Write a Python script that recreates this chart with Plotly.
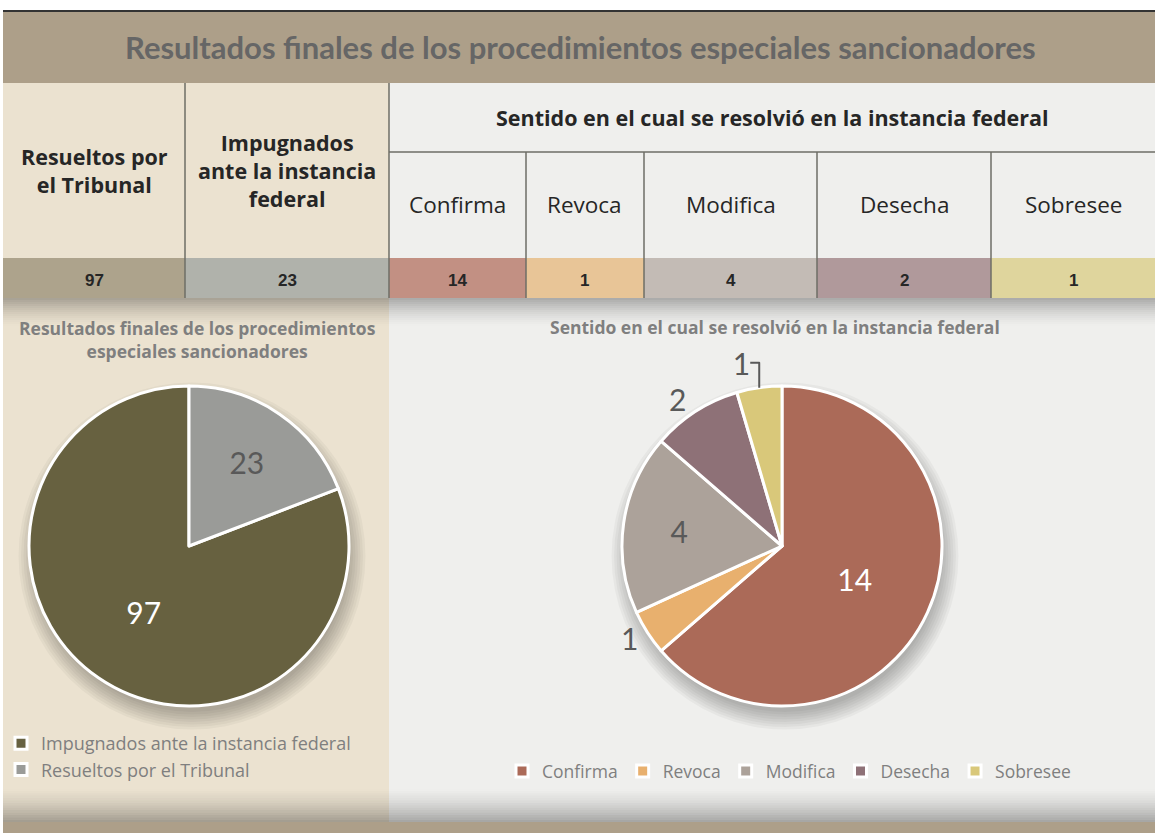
import plotly.graph_objects as go

W, H = 1155, 833

# ---------------- data ----------------
main_title = "Resultados finales de los procedimientos especiales sancionadores"
group_header = "Sentido en el cual se resolvió en la instancia federal"
table_labels = ["Resueltos por<br>el Tribunal", "Impugnados<br>ante la instancia<br>federal",
                "Confirma", "Revoca", "Modifica", "Desecha", "Sobresee"]
table_values = [97, 23, 14, 1, 4, 2, 1]

left_title = "Resultados finales de los procedimientos<br>especiales sancionadores"
left_labels = ["Impugnados ante la instancia federal", "Resueltos por el Tribunal"]
left_values = [97, 23]

right_title = "Sentido en el cual se resolvió en la instancia federal"
right_labels = ["Confirma", "Revoca", "Modifica", "Desecha", "Sobresee"]
right_values = [14, 1, 4, 2, 1]

# ---------------- styles ----------------
col_edges = [3, 185, 389, 526, 644, 817, 991, 1155]
value_colors = ["#ADA38C", "#B0B2AB", "#C29083", "#E8C597", "#C3BBB5", "#B0999B", "#DFD59D"]
left_colors = ["#676140", "#9A9B98"]
right_colors = ["#AB6A58", "#E8B06E", "#ACA29A", "#8E7177", "#D9C87A"]
BAND = "#AD9F89"
CREAM = "#EBE2D0"
LIGHT = "#EFEFED"
LINE = "#6E6E66"
FONT = "Open Sans"
TITLE_FONT = "Lato"


def px(x):
    return x / W


def py(y):
    return 1 - y / H


shapes = []
annotations = []


def rect(x0, y0, x1, y1, color, opacity=1.0, layer="below"):
    shapes.append(dict(type="rect", xref="paper", yref="paper", x0=px(x0), x1=px(x1),
                       y0=py(y1), y1=py(y0), fillcolor=color, opacity=opacity,
                       line=dict(width=0), layer=layer))


def line(x0, y0, x1, y1, color=LINE, width=1.5):
    shapes.append(dict(type="line", xref="paper", yref="paper", x0=px(x0), x1=px(x1),
                       y0=py(y0), y1=py(y1), line=dict(color=color, width=width), layer="below"))


def text(x, y, t, size, color, bold=False, family=FONT, xanchor="center"):
    annotations.append(dict(xref="paper", yref="paper", x=px(x), y=py(y), text=t,
                            showarrow=False, xanchor=xanchor, yanchor="middle",
                            font=dict(size=size, color=color, family=family,
                                      weight="bold" if bold else "normal")))


# title band
rect(3, 11, W, 83, BAND)
line(3, 11, W, 11, "#333333", 2)
text(580, 47, main_title, 31, "#666666", bold=True, family=TITLE_FONT)

# header cells
rect(3, 83, 389, 258, CREAM)
rect(389, 83, W, 258, LIGHT)
text((col_edges[0] + col_edges[1]) / 2, 170, table_labels[0], 21.5, "#262626", bold=True)
text((col_edges[1] + col_edges[2]) / 2, 170, table_labels[1], 21.5, "#262626", bold=True)
text((col_edges[2] + col_edges[-1]) / 2, 117, group_header, 21.5, "#262626", bold=True)
for i in range(2, 7):
    text((col_edges[i] + col_edges[i + 1]) / 2, 205, table_labels[i], 22.5, "#262626")

# value row
for i, v in enumerate(table_values):
    rect(col_edges[i], 258, col_edges[i + 1], 298, value_colors[i])
    text((col_edges[i] + col_edges[i + 1]) / 2, 280, str(v), 17, "#262626", bold=True,
         family="Liberation Sans")

# grid lines
line(389, 152, W, 152)
for x in col_edges[1:3]:
    line(x, 83, x, 298)
for x in col_edges[3:7]:
    line(x, 152, x, 298)

# lower panels
rect(3, 298, 389, 822, CREAM)
rect(389, 298, W, 822, LIGHT)
# top shadow gradient
n = 14
for k in range(n):
    y0 = 298 + k * 2
    rect(3, y0, W, y0 + 2, "#000000", opacity=0.28 * (1 - k / n) ** 1.5)
# bottom shadow gradient
for k in range(n):
    y1 = 822 - k * 2.4
    rect(3, y1 - 2.4, W, y1, "#000000", opacity=0.30 * (1 - k / n) ** 1.5)
rect(3, 822, W, H, BAND)


# pie shadows
def pie_shadow(cx, cy, r):
    for k in range(8):
        rr = r - 4 + k * 2.5
        shapes.append(dict(type="circle", xref="paper", yref="paper",
                           x0=px(cx - rr + 3), x1=px(cx + rr + 3),
                           y0=py(cy + rr + 10), y1=py(cy - rr + 10),
                           fillcolor="#000000", opacity=0.035, line=dict(width=0),
                           layer="below"))


pie_shadow(189, 546, 160)
pie_shadow(782, 546, 160)

# chart titles
text(197, 339, left_title, 17.5, "#7F7F7F", bold=True)
text(775, 327, right_title, 17.5, "#7F7F7F", bold=True)

fig = go.Figure()

fig.add_trace(go.Pie(
    labels=left_labels, values=left_values, sort=False, direction="clockwise",
    rotation=69, marker=dict(colors=left_colors, line=dict(color="white", width=3)),
    textinfo="value", textposition="inside", insidetextorientation="horizontal",
    insidetextfont=dict(size=30, family="Lato", color=["#FFFFFF", "#595959"]),
    domain=dict(x=[px(29), px(349)], y=[py(706), py(386)]),
    legend="legend", hoverinfo="label+value",
))

fig.add_trace(go.Pie(
    labels=right_labels, values=right_values, sort=False, direction="clockwise",
    rotation=0, marker=dict(colors=right_colors, line=dict(color="white", width=3)),
    textinfo="value",
    textposition=["inside", "outside", "inside", "outside", "outside"],
    insidetextorientation="horizontal",
    insidetextfont=dict(size=30, family="Lato",
                        color=["#FFFFFF", "#595959", "#595959", "#595959", "#595959"]),
    outsidetextfont=dict(size=30, family="Lato", color="#595959"),
    domain=dict(x=[px(622), px(942)], y=[py(706), py(386)]),
    legend="legend2", hoverinfo="label+value",
))

fig.update_layout(
    width=W, height=H, margin=dict(l=0, r=0, t=0, b=0),
    paper_bgcolor="white", plot_bgcolor="white",
    shapes=shapes, annotations=annotations,
    font=dict(family=FONT),
    legend=dict(x=px(1), y=py(725), xanchor="left", yanchor="top",
                orientation="v", bgcolor="rgba(0,0,0,0)", itemwidth=30,
                font=dict(size=18, color="#7F7F7F", family=FONT), tracegroupgap=0),
    legend2=dict(x=px(789), y=py(771), xanchor="center", yanchor="middle",
                 orientation="h", bgcolor="rgba(0,0,0,0)", itemwidth=30,
                 font=dict(size=17.5, color="#7F7F7F", family=FONT)),
)

fig.write_html("out.html", config={"displayModeBar": False},
               post_script="document.body.style.margin='0px';")
